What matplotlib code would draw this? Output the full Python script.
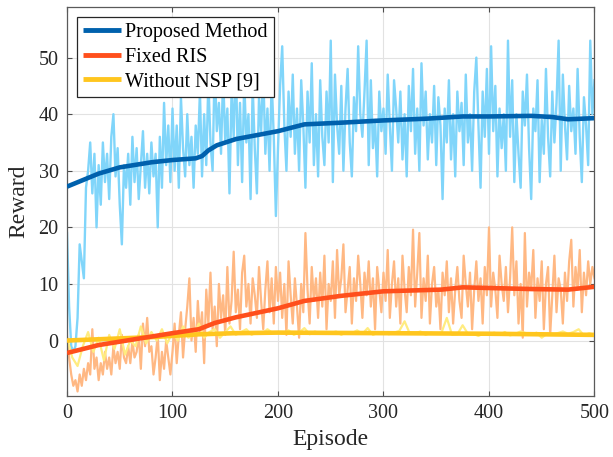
import numpy as np
import matplotlib
matplotlib.use("Agg")
import matplotlib.pyplot as plt

# ---------------- data ----------------
raw_step = 2  # raw curves sampled every 2 episodes
proposed_raw = [
    19, 6, -1, -2, -1, 4, 17, 14, 11, 27,
    30, 35, 26, 33, 20, 31, 24, 35, 28, 33,
    25, 36, 40, 29, 34, 24, 17, 31, 27, 33,
    24, 36, 28, 34, 25, 31, 37, 27, 33, 26,
    35, 29, 33, 20, 36, 27, 42, 31, 38, 28,
    41, 30, 38, 27, 43, 34, 29, 40, 31, 36,
    27, 38, 33, 44, 29, 40, 31, 46, 35, 30,
    49, 37, 42, 33, 47, 35, 41, 26, 44, 36,
    50, 31, 42, 28, 46, 35, 40, 25, 45, 34,
    26, 43, 37, 48, 33, 41, 30, 46, 36, 22,
    34, 45, 52, 38, 30, 44, 36, 47, 33, 41,
    30, 46, 38, 27, 44, 35, 49, 31, 40, 29,
    46, 36, 31, 44, 35, 53, 28, 47, 38, 33,
    45, 30, 41, 48, 35, 29, 43, 37, 52, 40,
    36, 44, 53, 31, 46, 34, 39, 29, 44, 37,
    41, 33, 47, 38, 30, 46, 41, 35, 44, 32,
    40, 29, 45, 37, 48, 33, 41, 30, 49, 38,
    44, 32, 40, 35, 45, 31, 43, 38, 25, 41,
    35, 46, 32, 40, 29, 44, 37, 42, 31, 47,
    35, 40, 30, 44, 50, 38, 27, 44, 36, 48,
    33, 52, 37, 45, 29, 41, 34, 40, 30, 53,
    36, 46, 28, 40, 33, 27, 44, 38, 47, 34,
    25, 41, 37, 46, 28, 39, 33, 48, 36, 29,
    44, 35, 42, 53, 30, 47, 38, 32, 45, 37,
    41, 33, 48, 36, 28, 43, 38, 31, 53, 40,
    46,
]
fixed_raw = [
    0.7, -3, -6, -8, -7, -9, -6, -8, -5, -7,
    -4, -6, 2, -5, -3, -7, -4, -6, -2, -5,
    -3, -6, -1, -4, -2, -5, 1, -3, -4, -1,
    -4, 0, -3, -2, 1, -5, 3, -1, 4, -2,
    -1, -6, -3, 1, -7, -2, -5, 0, -3, -6,
    -2, 3, -4, 1, 5, -3, 2, 6, 11, 0,
    4, -2, 7, 1, 5, -4, 9, 3, 12, 2,
    6, -1, 10, 4, 8, 1, 13, 3, 7, 15.7,
    5, 9, 2, 12, 15, 6, 10, 3, 11, 8,
    4, 13, 7, 2, 9, 14, 5, 11, 3, 13,
    7, 12, 4, 10, 1, 14, 8, 3, 11, 6,
    0.5, 10, 5, 19, 9, 3, 13, 7, 11, 4,
    12, 6, 15, 2, 10, 7, 14, 4, 16, 8,
    11, 17, 5, 9, 13, 3, 11, 7, 15, 10,
    4, 12, 8, 14, 6, 11, 2, 13, 9, 5,
    12, 7, 16, 4, 10, 14, 6, 11, 3, 15,
    9, 5, 13, 8, 19.6, 6, 12, 19, 4, 11,
    7, 15, 3, 10, 13, 6, 9, 2, 12, 8,
    14, 5, 11, 3, 9, 13, 7, 4, 15, 10,
    6, 12, 2, 9, 14, 7, 11, 3, 13, 8,
    20, 6, 12, 9, 4, 15, 10, 7, 13, 5,
    11, 20, 8, 14, 3, 10, 0.5, 19, 6, 12,
    9, 16, 4, 11, 7, 14, 2, 10, 13, 1,
    8, 15, 5, 11, 9, 3, 12, 7, 14, 17.8,
    6, 13, 9, 16, 5, 12, 8, 14, 10, 13,
    11,
]
nsp_step = 5
nsp_raw = [
    0.5, -3, -4.5, -1, 1.5, -2, 0.5, -3.5, 1, -1.5,
    2, -2.5, 0, -1, 2.5, -0.5, 1.5, 0, 2, -0.5,
    1.5, 0, 2.5, 0.5, 1, 3, 0.5, 1.5, 2, 0.5,
    1.5, 2.5, 1, 1.5, 2, 1, 1.5, 1.2, 2, 1.3,
    1.5, 1.2, 1.8, 1.0, 1.4, 2.2, 1.1, 1.6, 1.2, 1.5,
    1.3, 1.6, 1.0, 1.5, 1.3, 1.8, 1.2, 2.2, 1.0, 1.4,
    1.5, 1.1, 1.4, 1.7, 3.4, 1.2, 1.3, 1.6, 1.0, 1.4,
    1.2, 1.4, 4.0, 1.0, 1.1, 2.7, 1.2, 1.2, 0.8, 1.3,
    1.1, 1.4, 1.0, 1.5, 0.9, 1.2, 1.6, 1.3, 1.0, 1.4,
    0.5, 1.2, 1.0, 1.3, 1.6, 1.2, 1.5, 2.0, 0.9, 1.3,
    1.0,
]

proposed_smooth_ep = [0, 30, 50, 80, 100, 122, 128, 134, 142, 160, 200, 225, 260, 300, 340, 375, 400, 440, 460, 475, 500]
proposed_smooth = [27.2, 29.5, 30.6, 31.5, 31.9, 32.2, 32.6, 33.6, 34.5, 35.6, 37.0, 38.2, 38.5, 38.9, 39.2, 39.6, 39.6, 39.7, 39.5, 39.1, 39.3]
fixed_smooth_ep = [0, 30, 80, 100, 125, 140, 160, 200, 225, 260, 300, 355, 375, 440, 475, 500]
fixed_smooth = [-2.2, -0.8, 0.7, 1.3, 2.0, 3.1, 4.1, 5.7, 7.0, 7.9, 8.7, 9.0, 9.4, 9.1, 9.0, 9.5]
nsp_smooth_ep = [0, 40, 80, 125, 160, 200, 300, 400, 450, 500]
nsp_smooth = [0.0, 0.3, 0.6, 1.1, 1.3, 1.4, 1.3, 1.2, 1.1, 1.0]

labels = ["Proposed Method", "Fixed RIS", "Without NSP [9]"]
xticks = [0, 100, 200, 300, 400, 500]
yticks = [0, 10, 20, 30, 40, 50]

# ---------------- style ----------------
c_blue_raw, c_blue = "#80D5FA", "#0061AD"
c_or_raw, c_or = "#FFB883", "#FF4F1C"
c_ye_raw, c_ye = "#FFEC80", "#FFC61E"

plt.rcParams["font.family"] = ["Liberation Serif", "DejaVu Serif"]

fig = plt.figure(figsize=(6.13, 4.57), dpi=100)
ax = fig.add_axes([0.1093, 0.1335, 0.8605, 0.8519])

ep_raw = np.arange(len(proposed_raw)) * raw_step
ep_nsp = np.arange(len(nsp_raw)) * nsp_step

ax.plot(ep_raw, proposed_raw, color=c_blue_raw, lw=1.7, zorder=2)
ax.plot(ep_raw, fixed_raw, color=c_or_raw, lw=1.6, zorder=2.1)
ax.plot(ep_nsp, nsp_raw, color=c_ye_raw, lw=1.6, zorder=2.2)

l1, = ax.plot(proposed_smooth_ep, proposed_smooth, color=c_blue, lw=3.3, zorder=3, solid_capstyle="butt")
l3, = ax.plot(nsp_smooth_ep, nsp_smooth, color=c_ye, lw=3.3, zorder=3.1, solid_capstyle="butt")
l2, = ax.plot(fixed_smooth_ep, fixed_smooth, color=c_or, lw=3.3, zorder=3.2, solid_capstyle="butt")

ax.set_xlim(0, 500)
ax.set_ylim(-9.8, 59)
ax.set_xticks(xticks)
ax.set_yticks(yticks)
ax.grid(True, color="#e2e2e2", lw=0.8)
ax.set_axisbelow(True)
ax.tick_params(direction="in", length=3.5, width=0.8, top=True, right=True,
               labelsize=14.5, colors="#4d4d4d", labelcolor="#262626", pad=6)
for s in ax.spines.values():
    s.set_color("#5a5a5a")
    s.set_linewidth(0.9)

ax.set_xlabel("Episode", fontsize=17, color="#262626")
ax.set_ylabel("Reward", fontsize=17, color="#262626")
ax.xaxis.set_label_coords(0.5, -0.085)
ax.yaxis.set_label_coords(-0.072, 0.5)

leg = ax.legend([l1, l2, l3], labels, loc="upper left",
                bbox_to_anchor=(77 / 613, 1 - 17 / 457), bbox_transform=fig.transFigure,
                borderaxespad=0, fontsize=14.5, fancybox=False, framealpha=1,
                edgecolor="#262626", handlelength=1.9, handletextpad=0.2,
                labelspacing=0.27, borderpad=0.3)
leg.get_frame().set_linewidth(0.9)
for h in leg.get_lines():
    h.set_linewidth(3.5)
leg.set_zorder(10)

fig.savefig("out.png", dpi=100)
